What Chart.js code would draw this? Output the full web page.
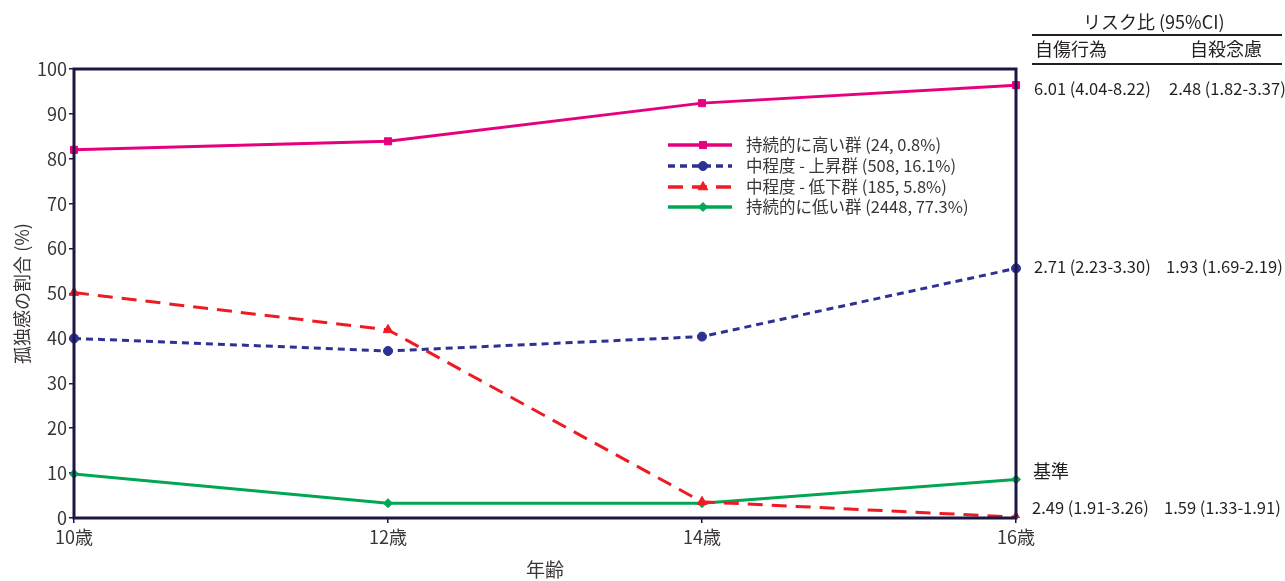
<!DOCTYPE html>
<html lang="ja">
<head>
  <meta charset="UTF-8" />
  <title>孤独感の割合</title>
  <script src="https://cdn.jsdelivr.net/npm/chart.js"></script>
  <style>
    body {
      margin: 0;
      background: #fff;
      font-family: 'Noto Sans CJK JP', 'Noto Sans', sans-serif;
      color: #231f20;
    }
    #wrap {
      position: relative;
      width: 1285px;
      height: 581px;
      overflow: hidden;
    }
    .t {
      position: absolute;
      white-space: nowrap;
      font-size: 16.5px;
      line-height: 20px;
    }
    .h {
      font-size: 18px;
    }
    .rule {
      position: absolute;
      left: 1032px;
      width: 250px;
      height: 2px;
      background: #231f20;
    }
  </style>
</head>
<body>
  <div id="wrap">
    <canvas id="lonelyChart" width="1285" height="581"></canvas>

    <div class="t h" style="left:1083px; top:11px;">リスク比 (95%CI)</div>
    <div class="rule" style="top:34px;"></div>
    <div class="t h" style="left:1035px; top:38px;">自傷行為</div>
    <div class="t h" style="left:1190px; top:38px;">自殺念慮</div>
    <div class="rule" style="top:63px;"></div>

    <div class="t" style="left:1034px; top:78px;">6.01 (4.04-8.22)</div>
    <div class="t" style="left:1169px; top:78px;">2.48 (1.82-3.37)</div>
    <div class="t" style="left:1034px; top:256px;">2.71 (2.23-3.30)</div>
    <div class="t" style="left:1166px; top:256px;">1.93 (1.69-2.19)</div>
    <div class="t h" style="left:1033px; top:460px;">基準</div>
    <div class="t" style="left:1032px; top:497px;">2.49 (1.91-3.26)</div>
    <div class="t" style="left:1164px; top:497px;">1.59 (1.33-1.91)</div>
  </div>

  <script>
    // data
    const ages = ["10歳", "12歳", "14歳", "16歳"];
    const yTicks = [0, 10, 20, 30, 40, 50, 60, 70, 80, 90, 100];

    const highLabel = "持続的に高い群 (24, 0.8%)";
    const riseLabel = "中程度 - 上昇群 (508, 16.1%)";
    const fallLabel = "中程度 - 低下群 (185, 5.8%)";
    const lowLabel = "持続的に低い群 (2448, 77.3%)";

    const highValues = [82.0, 83.9, 92.4, 96.4];
    const riseValues = [40.0, 37.2, 40.4, 55.6];
    const fallValues = [50.2, 41.9, 3.6, 0.2];
    const lowValues = [9.8, 3.3, 3.3, 8.6];

    const frameColor = "#1b1743";
    const textColor = "#3a3536";
    const font18 = { family: "'Noto Sans CJK JP'", size: 18 };

    // frame around the plot area, drawn over the lines
    const framePlugin = {
      id: "frame",
      afterDatasetsDraw(chart) {
        const { ctx, chartArea: a } = chart;
        ctx.save();
        ctx.strokeStyle = frameColor;
        ctx.lineWidth = 3;
        ctx.strokeRect(a.left, a.top, a.right - a.left, a.bottom - a.top);
        ctx.restore();
      }
    };

    // legend inside the plot, like the original
    const legendPlugin = {
      id: "insideLegend",
      afterDraw(chart) {
        const ctx = chart.ctx;
        const rows = [145, 166, 187, 207];
        ctx.save();
        chart.data.datasets.forEach((ds, i) => {
          const y = rows[i];
          ctx.strokeStyle = ds.borderColor;
          ctx.lineWidth = 3.5;
          ctx.setLineDash(ds.borderDash || []);
          ctx.beginPath();
          ctx.moveTo(668, y);
          ctx.lineTo(732, y);
          ctx.stroke();
          ctx.setLineDash([]);
          ctx.fillStyle = ds.borderColor;
          ctx.strokeStyle = ds.borderColor;
          ctx.lineWidth = 1;
          Chart.helpers.drawPoint(ctx, {
            pointStyle: ds.pointStyle,
            radius: ds.pointRadius,
            rotation: 0,
            borderWidth: 1
          }, 703, y);
          ctx.fillStyle = textColor;
          ctx.font = "16.5px 'Noto Sans CJK JP'";
          ctx.textBaseline = "middle";
          ctx.fillText(ds.label, 746, y);
        });
        ctx.restore();
      }
    };

    const lineDs = (label, data, color, dash, style, r) => ({
      label: label,
      data: data,
      borderColor: color,
      backgroundColor: color,
      pointBackgroundColor: color,
      pointBorderColor: color,
      borderWidth: 3,
      borderDash: dash,
      pointStyle: style,
      pointRadius: r,
      pointBorderWidth: 1,
      tension: 0
    });

    new Chart(document.getElementById("lonelyChart").getContext("2d"), {
      type: "line",
      data: {
        labels: ages,
        datasets: [
          lineDs(highLabel, highValues, "#e6007e", [], "rect", 5),
          lineDs(riseLabel, riseValues, "#2e3192", [7, 5], "circle", 4.5),
          lineDs(fallLabel, fallValues, "#ed1c24", [15, 9], "triangle", 5.5),
          lineDs(lowLabel, lowValues, "#00a651", [], "rectRot", 4.5)
        ]
      },
      options: {
        responsive: false,
        animation: false,
        layout: { padding: { left: 0, top: 69, right: 269, bottom: 0 } },
        plugins: {
          legend: { display: false },
          tooltip: { enabled: false }
        },
        scales: {
          x: {
            offset: false,
            border: { display: false },
            grid: { drawOnChartArea: false, tickLength: 5, color: frameColor, lineWidth: 1.5 },
            ticks: { color: textColor, padding: 3, maxRotation: 0, font: font18 },
            title: {
              display: true,
              text: "年齢",
              color: textColor,
              padding: { top: 0, bottom: 0 },
              font: { family: "'Noto Sans CJK JP'", size: 19 }
            },
            afterFit(scale) { scale.height = 63; }
          },
          y: {
            min: 0,
            max: 100,
            border: { display: false },
            grid: { drawOnChartArea: false, tickLength: 5, color: frameColor, lineWidth: 1.5 },
            afterBuildTicks(scale) { scale.ticks = yTicks.map(v => ({ value: v })); },
            ticks: { color: textColor, padding: 2, font: font18 },
            title: {
              display: true,
              text: "孤独感の割合 (%)",
              color: textColor,
              padding: { top: 11, bottom: 4 },
              font: font18
            },
            afterFit(scale) { scale.width = 74; }
          }
        }
      },
      plugins: [framePlugin, legendPlugin]
    });
  </script>
</body>
</html>
